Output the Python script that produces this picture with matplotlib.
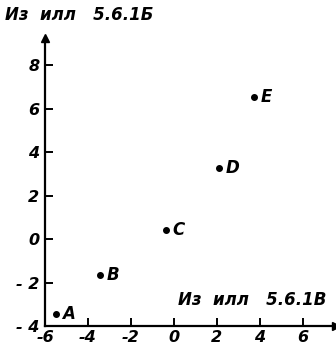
import matplotlib
matplotlib.use("Agg")
import matplotlib.pyplot as plt

# Coordinates of the samples: x from fig. 5.6.1В, y from fig. 5.6.1Б
names = ["A", "B", "C", "D", "E"]
x_vals = [-5.5, -3.45, -0.35, 2.1, 3.75]
y_vals = [-3.45, -1.65, 0.4, 3.25, 6.55]

x_ticks = [-6, -4, -2, 0, 2, 4, 6]
y_ticks = [-4, -2, 0, 2, 4, 6, 8]

FONT = dict(family="DejaVu Sans", style="italic", weight="semibold")

fig = plt.figure(figsize=(3.36, 3.49), dpi=100)
ax = fig.add_axes([45 / 336, 23 / 349, 291 / 336, 288 / 349])
ax.set_xlim(-6, 7.55)
ax.set_ylim(-4, 9.25)

for side in ("top", "right"):
    ax.spines[side].set_visible(False)
for side in ("left", "bottom"):
    ax.spines[side].set_linewidth(1.6)

# arrow heads on the axes
ax.plot(1, 0, ">k", markersize=6, transform=ax.transAxes, clip_on=False)
ax.plot(0, 1, "^k", markersize=6, transform=ax.transAxes, clip_on=False)

ax.set_xticks(x_ticks)
ax.set_xticklabels([str(v) for v in x_ticks], fontsize=11.5, **FONT)
ax.set_yticks(y_ticks)
ax.set_yticklabels([f"- {-v}" if v < 0 else str(v) for v in y_ticks], fontsize=11.5, **FONT)
ax.tick_params(direction="in", length=6, width=1.4, pad=4)
ax.tick_params(axis="x", pad=3)

ax.plot(x_vals, y_vals, "o", color="black", markersize=4)
for name, x, y in zip(names, x_vals, y_vals):
    ax.text(x + 0.3, y, name, fontsize=12, va="center", ha="left", **FONT)

fig.text(5 / 336, 1 - 15 / 349, "Из  илл   5.6.1Б", fontsize=12, va="center", ha="left", **FONT)
fig.text(326 / 336, 1 - 300 / 349, "Из  илл   5.6.1В", fontsize=12, va="center", ha="right", **FONT)

fig.savefig("out.png", dpi=100)
